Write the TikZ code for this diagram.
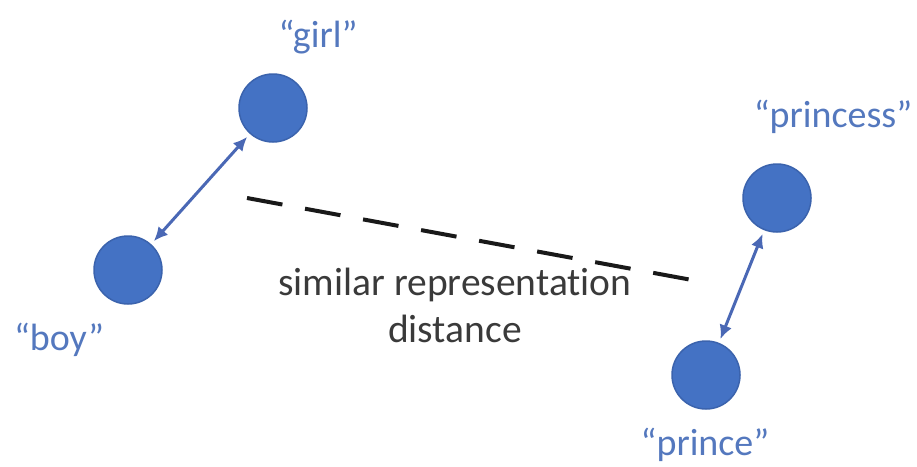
\documentclass[tikz,border=0pt]{standalone}
\usepackage{fontspec}
\setmainfont{Carlito}[Ligatures=NoCommon]
\usepackage{xcolor}
\definecolor{cDot}{HTML}{4472C4}
\definecolor{cDotEdge}{HTML}{3B63AD}
\definecolor{cArrow}{HTML}{4A68B5}
\definecolor{cLabel}{HTML}{5478BE}
\definecolor{cText}{HTML}{3A3A3A}
\usepackage{tikz}
\usetikzlibrary{positioning,arrows.meta}
\tikzset{
  node-word/.style={circle,fill=cDot,draw=cDotEdge,line width=1.5pt,
    minimum size=68pt,inner sep=0pt},
  node-lbl/.style={text=cLabel,inner sep=0pt,anchor=base},
  node-note/.style={text=cText,align=center,inner sep=0pt,
    font=\fontsize{39.5}{47}\selectfont},
  arrow-pair/.style={{Latex[length=14pt,width=13pt]}-{Latex[length=14pt,width=13pt]},
    line width=3pt,draw=cArrow,shorten <=4pt,shorten >=4pt},
  arrow-dist/.style={line width=4pt,draw=black!90,dash pattern=on 36pt off 23pt},
}

\begin{document}
\begin{tikzpicture}[x=1pt,y=-1pt,font=\fontsize{38}{47}\selectfont]
  \useasboundingbox (0,0) rectangle (917,466);
  \node[node-word] (girl)     at (273,108) {};
  \node[node-word] (boy)      at (128,270) {};
  \node[node-word] (princess) at (777,198) {};
  \node[node-word] (prince)   at (706,375) {};
  \node[node-lbl] (girl-lbl)     at (318,47)  {“girl”};
  \node[node-lbl] (boy-lbl)      at (59,350)  {“boy”};
  \node[node-lbl] (princess-lbl) at (833,127) {“princess”};
  \node[node-lbl] (prince-lbl)   at (705,455) {“prince”};
  \coordinate (dist-a) at (247,198);
  \coordinate (dist-b) at (692,280);
  \node[node-note] (dist-lbl) at (455,305) {similar representation\\distance};
  \draw[arrow-pair] (boy) -- (girl);
  \draw[arrow-pair] (prince) -- (princess);
  \draw[arrow-dist] (dist-a) -- (dist-b);
\end{tikzpicture}
\end{document}
